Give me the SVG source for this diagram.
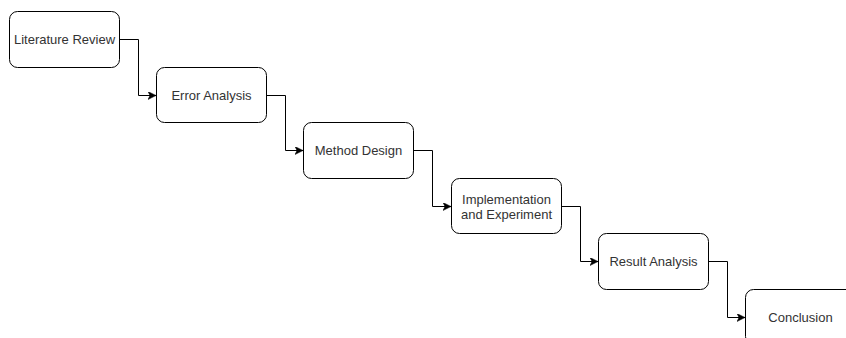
<svg xmlns="http://www.w3.org/2000/svg" width="846" height="338" viewBox="0 0 846 338">
  <style>
    .box { fill: #ffffff; stroke: #000000; stroke-width: 1; }
    .label { font-family: "Liberation Sans", Arial, sans-serif; font-size: 13px; fill: #333333; text-anchor: middle; }
    .edge { fill: none; stroke: #000000; stroke-width: 1; }
  </style>
  <defs>
    <marker id="arrow" markerUnits="userSpaceOnUse" markerWidth="10" markerHeight="10" refX="8" refY="4" orient="auto">
      <path d="M0,0 L8,4 L0,8 L2,4 Z" fill="#000000" stroke="#000000" stroke-width="0.5"/>
    </marker>
  </defs>

  <!-- connectors: elbow routes between consecutive steps -->
  <g id="connectors">
    <path class="edge" d="M119.5 39.5 H138.5 V95.5 H156" marker-end="url(#arrow)"/>
    <path class="edge" d="M266.5 95.5 H285.5 V150.5 H303" marker-end="url(#arrow)"/>
    <path class="edge" d="M413.5 150.5 H432.5 V206.5 H451" marker-end="url(#arrow)"/>
    <path class="edge" d="M561.5 206.5 H580.5 V261.5 H598" marker-end="url(#arrow)"/>
    <path class="edge" d="M708.5 261.5 H727.5 V317.5 H745" marker-end="url(#arrow)"/>
  </g>

  <g id="literature-review">
    <rect class="box" x="9.5" y="11.5" width="110" height="56" rx="8" ry="8"/>
    <text class="label" x="64.5" y="44">Literature Review</text>
  </g>
  <g id="error-analysis">
    <rect class="box" x="156.5" y="67.5" width="110" height="55" rx="8" ry="8"/>
    <text class="label" x="211.5" y="100">Error Analysis</text>
  </g>
  <g id="method-design">
    <rect class="box" x="303.5" y="122.5" width="110" height="56" rx="8" ry="8"/>
    <text class="label" x="358.5" y="155">Method Design</text>
  </g>
  <g id="implementation">
    <rect class="box" x="451.5" y="178.5" width="110" height="55" rx="8" ry="8"/>
    <text class="label" x="506.5" y="203.5">Implementation</text>
    <text class="label" x="506.5" y="218.5">and Experiment</text>
  </g>
  <g id="result-analysis">
    <rect class="box" x="598.5" y="233.5" width="110" height="56" rx="8" ry="8"/>
    <text class="label" x="653.5" y="266">Result Analysis</text>
  </g>
  <g id="conclusion">
    <rect class="box" x="745.5" y="289.5" width="110" height="55" rx="8" ry="8"/>
    <text class="label" x="800.5" y="322">Conclusion</text>
  </g>
</svg>
